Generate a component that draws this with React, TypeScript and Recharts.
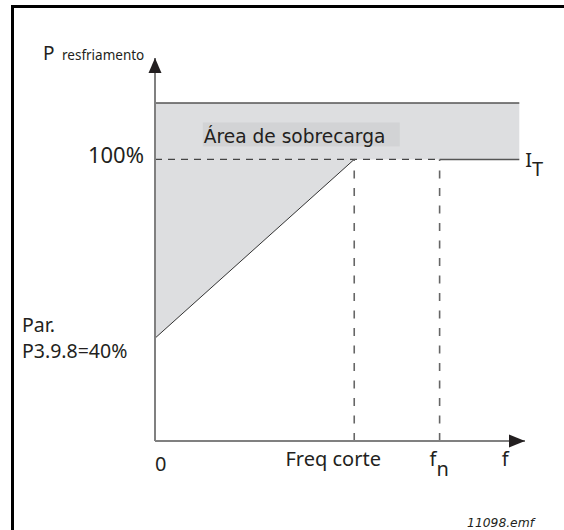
import React from 'react';
import { ComposedChart, XAxis, YAxis, Area, Line, ReferenceLine, ReferenceDot, ReferenceArea } from 'recharts';

// ---- data ----
const bandFreq = [0, 70, 128];
const bandLow = [36.5, 100, 100];
const bandHigh = [120, 120, 120];
const diagFreq = [0, 70];
const diagPower = [36.5, 100];
const itFreq = [100, 128];
const itPower = [100, 100];
const fCut = 70;
const fNom = 100;
const nominal = 100;
const overloadTop = 120;
const fMax = 130;
const pMax = 136;
const labelBoxX = [16.8, 86];
const labelBoxY = [104.6, 113.1];
const xTicks = [0, 70, 100, 123];
const xTickMain = ['0', 'Freq corte', 'f', 'f'];
const xTickSub = ['', '', 'n', ''];
const yTicks = [36.5, 100];
const yTickLines = [['Par.', 'P3.9.8=40%'], ['100%']];

const bandData = bandFreq.map((f, i) => ({ f, range: [bandLow[i], bandHigh[i]] }));
const diagData = diagFreq.map((f, i) => ({ f, p: diagPower[i] }));
const itData = itFreq.map((f, i) => ({ f, p: itPower[i] }));
const topData = [{ f: bandFreq[0], p: overloadTop }, { f: bandFreq[bandFreq.length - 1], p: overloadTop }];

const FONT = '"Noto Sans", sans-serif';
const INK = '#231f20';

const xTickStyle = [
  { anchor: 'start', dx: 0, dy: 30 },
  { anchor: 'middle', dx: -21, dy: 25 },
  { anchor: 'start', dx: -10, dy: 25 },
  { anchor: 'middle', dx: 0, dy: 25 },
];

function XTick(props: any) {
  const { x, y, payload } = props;
  const i = xTicks.indexOf(payload.value);
  if (i < 0) return null;
  const s = xTickStyle[i];
  return (
    <text x={x + s.dx} y={y + s.dy} textAnchor={s.anchor} fontFamily={FONT} fontSize={20} fill={INK}>
      <tspan>{xTickMain[i]}</tspan>
      {xTickSub[i] ? <tspan dy={10}>{xTickSub[i]}</tspan> : null}
    </text>
  );
}

function YTick(props: any) {
  const { x, y, payload } = props;
  const i = yTicks.indexOf(payload.value);
  if (i < 0) return null;
  const lines = yTickLines[i];
  if (lines.length === 1) {
    return (
      <text x={x - 11} y={y + 4} textAnchor="end" fontFamily={FONT} fontSize={22} fill={INK}>
        {lines[0]}
      </text>
    );
  }
  return (
    <text fontFamily={FONT} fontSize={19.5} fill={INK}>
      <tspan x={x - 133} y={y - 6}>{lines[0]}</tspan>
      <tspan x={x - 133} y={y + 20}>{lines[1]}</tspan>
    </text>
  );
}

function YArrow(props: any) {
  const { cx, cy } = props;
  return (
    <g>
      <path d={`M${cx},${cy} L${cx + 6.5},${cy + 15} L${cx - 6.5},${cy + 15} Z`} fill={INK} />
      <text x={cx - 112} y={cy + 2} fontFamily={FONT} fontSize={19} fill={INK}>P</text>
      <text x={cx - 93} y={cy + 2} fontFamily={FONT} fontSize={13.5} fill={INK}>resfriamento</text>
    </g>
  );
}

function XArrow(props: any) {
  const { cx, cy } = props;
  return <path d={`M${cx},${cy} L${cx - 16},${cy - 6.5} L${cx - 16},${cy + 6.5} Z`} fill={INK} />;
}

function FileTag(props: any) {
  const { cx, cy } = props;
  return (
    <text x={cx + 9} y={cy + 86} textAnchor="end" fontFamily='"DejaVu Sans", sans-serif' fontStyle="italic" fontSize={12.3} fill={INK}>
      11098.emf
    </text>
  );
}

function ITLabel(props: any) {
  const { cx, cy } = props;
  return (
    <text x={cx + 6} y={cy + 8} fontFamily={FONT} fontSize={20} fill={INK}>
      <tspan>I</tspan>
      <tspan dy={9}>T</tspan>
    </text>
  );
}

function BoxShape(props: any) {
  const { x, y, width, height } = props;
  return (
    <g>
      <rect x={x} y={y} width={width} height={height} fill="#d2d3d5" />
      <text x={x + 1} y={y + 21} fontFamily='"DejaVu Sans", sans-serif' fontSize={18.6} fill={INK}>
        Área de sobrecarga
      </text>
    </g>
  );
}

export default function App() {
  return (
    <div style={{ position: 'absolute', left: 0, top: 0, width: 564, height: 530, background: '#fff', overflow: 'hidden' }}>
      <ComposedChart width={564} height={530} margin={{ top: 58, right: 39, bottom: 49, left: 0 }}>
        <XAxis
          type="number"
          dataKey="f"
          domain={[0, fMax]}
          ticks={xTicks}
          allowDataOverflow
          height={40}
          tickSize={0}
          tickMargin={0}
          tickLine={false}
          axisLine={{ stroke: '#808080', strokeWidth: 2 }}
          tick={<XTick />}
          interval={0}
        />
        <YAxis
          type="number"
          domain={[0, pMax]}
          ticks={yTicks}
          allowDataOverflow
          width={155}
          tickSize={0}
          tickMargin={0}
          tickLine={false}
          axisLine={{ stroke: '#808080', strokeWidth: 2 }}
          tick={<YTick />}
          interval={0}
        />
        <Area
          data={bandData}
          dataKey="range"
          type="linear"
          fill="#dddee0"
          fillOpacity={1}
          stroke="none"
          isAnimationActive={false}
          dot={false}
          activeDot={false}
        />
        <ReferenceArea x1={labelBoxX[0]} x2={labelBoxX[1]} y1={labelBoxY[0]} y2={labelBoxY[1]} shape={<BoxShape />} />
        <Line data={topData} dataKey="p" type="linear" stroke="#555" strokeWidth={1.5} dot={false} activeDot={false} isAnimationActive={false} />
        <Line data={diagData} dataKey="p" type="linear" stroke="#333" strokeWidth={1} dot={false} activeDot={false} isAnimationActive={false} />
        <Line data={itData} dataKey="p" type="linear" stroke="#555" strokeWidth={1.5} dot={false} activeDot={false} isAnimationActive={false} />
        <ReferenceLine segment={[{ x: 0, y: nominal }, { x: fNom, y: nominal }]} stroke="#444" strokeWidth={1.3} strokeDasharray="7 6" />
        <ReferenceLine segment={[{ x: fCut, y: 0 }, { x: fCut, y: nominal }]} stroke="#666" strokeWidth={1.6} strokeDasharray="8 9.5" />
        <ReferenceLine segment={[{ x: fNom, y: 0 }, { x: fNom, y: nominal }]} stroke="#666" strokeWidth={1.6} strokeDasharray="8 9.5" />
        <ReferenceDot x={0} y={pMax} r={0} ifOverflow="visible" shape={<YArrow />} />
        <ReferenceDot x={fMax} y={0} r={0} ifOverflow="visible" shape={<XArrow />} />
        <ReferenceDot x={fMax} y={0} r={0} ifOverflow="visible" shape={<FileTag />} />
        <ReferenceDot x={bandFreq[bandFreq.length - 1]} y={nominal} r={0} ifOverflow="visible" shape={<ITLabel />} />
      </ComposedChart>
      <div
        style={{
          position: 'absolute',
          left: 11,
          top: 5,
          right: 0,
          bottom: 0,
          borderTop: '3px solid #000',
          borderLeft: '3px solid #000',
          pointerEvents: 'none',
        }}
      />
    </div>
  );
}
